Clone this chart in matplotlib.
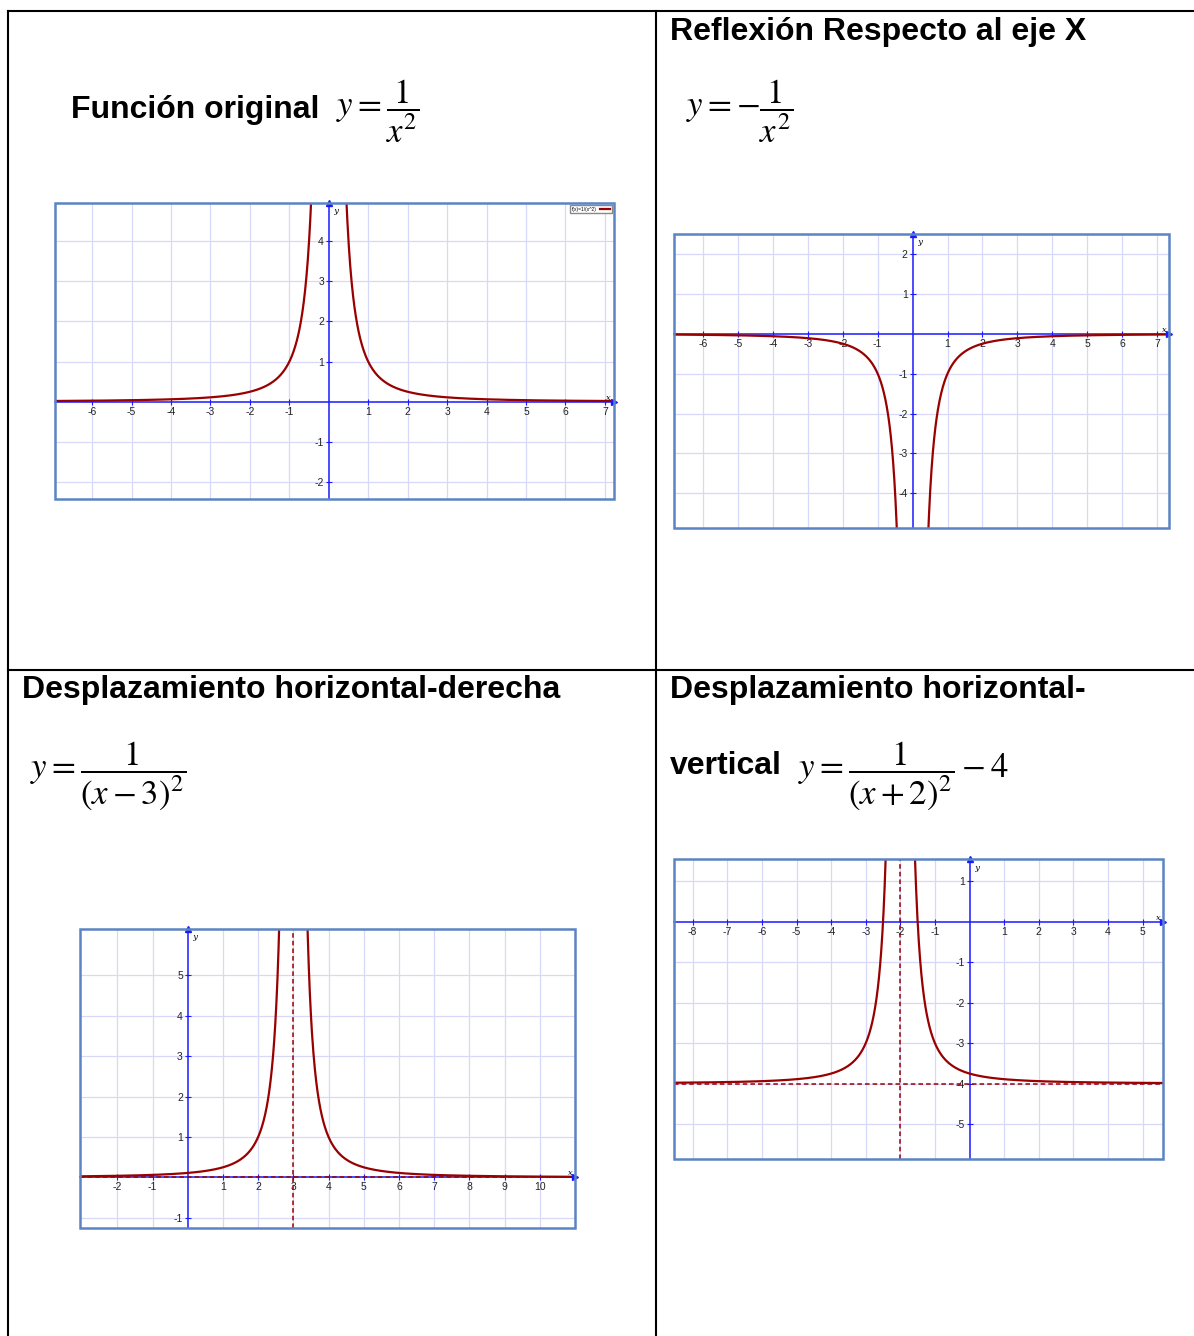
import numpy as np
import matplotlib
matplotlib.use("Agg")
import matplotlib.pyplot as plt
from matplotlib.lines import Line2D
from matplotlib.patches import Rectangle
from matplotlib.ticker import FixedLocator

# --- chart content ---
headings = ["Función original", "Reflexión Respecto al eje X",
            "Desplazamiento horizontal-derecha", "Desplazamiento horizontal-"]
equations = [r"$y=\dfrac{1}{x^2}$", r"$y=-\dfrac{1}{x^2}$",
             r"$y=\dfrac{1}{\left(x-3\right)^2}$", r"$y=\dfrac{1}{\left(x+2\right)^2}-4$"]
extra_word = "vertical"
legend_label = "f(x)=1/(x^2)"

# y = sign / (x - h)^2 + k
signs = [1, -1, 1, 1]
shift_h = [0, 0, 3, -2]
shift_k = [0, 0, 0, -4]
show_asymptotes = [False, False, True, True]

x_ticks = [[-6, -5, -4, -3, -2, -1, 1, 2, 3, 4, 5, 6, 7],
           [-6, -5, -4, -3, -2, -1, 1, 2, 3, 4, 5, 6, 7],
           [-2, -1, 1, 2, 3, 4, 5, 6, 7, 8, 9, 10],
           [-8, -7, -6, -5, -4, -3, -2, -1, 1, 2, 3, 4, 5]]
y_ticks = [[-2, -1, 1, 2, 3, 4],
           [-4, -3, -2, -1, 1, 2],
           [-1, 1, 2, 3, 4, 5],
           [-5, -4, -3, -2, -1, 1]]

# --- layout (pixels) ---
W, H = 1194, 1336
x_lims = [(-6.94, 7.23), (-6.83, 7.34), (-3.06, 11.0), (-8.54, 5.59)]
y_lims = [(-2.42, 4.95), (-4.87, 2.50), (-1.25, 6.14), (-5.86, 1.55)]
boxes = [(55, 203, 614, 499), (674, 234, 1169, 528),
         (80, 929, 575, 1228), (674, 859, 1163, 1159)]

AXIS_BLUE = "#1a1aff"
FRAME_BLUE = "#5b84c4"
GRID = "#d8d8f8"
CURVE = "#990000"


def fx(px):
    return px / W


def fy(py):
    return 1 - py / H


plt.rcParams["mathtext.fontset"] = "stix"
plt.rcParams["axes.unicode_minus"] = False
plt.rcParams["font.family"] = ["Liberation Sans", "DejaVu Sans"]

fig = plt.figure(figsize=(W / 100, H / 100), dpi=100, facecolor="white")

# table lines
lw_table = 1.5
for (x0, y0, x1, y1) in [(8, 11, 1194, 11), (8, 670, 1194, 670),
                         (8, 11, 8, 1336), (656, 11, 656, 1336)]:
    fig.add_artist(Line2D([fx(x0), fx(x1)], [fy(y0), fy(y1)],
                          color="black", lw=lw_table))

# headings
head_pos = [(71, 110), (670, 32), (22, 690), (670, 690)]
for txt, (px, py) in zip(headings, head_pos):
    fig.text(fx(px), fy(py), txt, fontsize=23, fontweight="bold",
             ha="left", va="center")
fig.text(fx(670), fy(766), extra_word, fontsize=23, fontweight="bold",
         ha="left", va="center")

# equations
eq_pos = [(336, 111), (686, 111), (30, 776), (798, 776)]
for txt, (px, py) in zip(equations, eq_pos):
    fig.text(fx(px), fy(py), txt, fontsize=25, ha="left", va="center")

# graphs
for i in range(4):
    x0, y0, x1, y1 = boxes[i]
    ax = fig.add_axes([fx(x0), fy(y1), (x1 - x0) / W, (y1 - y0) / H])
    ax.set_xlim(*x_lims[i])
    ax.set_ylim(*y_lims[i])

    for side in ["top", "right"]:
        ax.spines[side].set_visible(False)
    for side in ["left", "bottom"]:
        ax.spines[side].set_position(("data", 0))
        ax.spines[side].set_color(AXIS_BLUE)
        ax.spines[side].set_linewidth(1.1)

    ax.xaxis.set_major_locator(FixedLocator(x_ticks[i]))
    ax.yaxis.set_major_locator(FixedLocator(y_ticks[i]))
    ax.tick_params(direction="inout", length=5, width=0.8, color=AXIS_BLUE,
                   labelsize=7.5, pad=1, labelcolor="#222222")
    ax.grid(True, color=GRID, lw=0.9)
    ax.set_axisbelow(True)

    # arrow heads and axis names
    ax.plot(1, 0, ">", color=AXIS_BLUE, ms=4, transform=ax.get_yaxis_transform(),
            clip_on=False, zorder=5)
    ax.plot(0, 1, "^", color=AXIS_BLUE, ms=4, transform=ax.get_xaxis_transform(),
            clip_on=False, zorder=5)
    ax.text(0.995, 0, "x", transform=ax.get_yaxis_transform(), fontsize=6,
            family="DejaVu Serif", style="italic", ha="right", va="bottom")
    ax.text(0, 0.985, "  y", transform=ax.get_xaxis_transform(), fontsize=6,
            family="DejaVu Serif", style="italic", ha="left", va="top")

    # curve branches
    h, k, s = shift_h[i], shift_k[i], signs[i]
    xa, xb = x_lims[i]
    left = np.linspace(xa, h - 0.03, 800)
    right = np.linspace(h + 0.03, xb, 800)
    for xs in (left, right):
        line, = ax.plot(xs, s / (xs - h) ** 2 + k, color=CURVE, lw=1.6, zorder=4)
    if i == 0:
        line.set_label(legend_label)
        ax.legend(loc="upper right", fontsize=3.5, handlelength=2,
                  borderpad=0.3, fancybox=False, framealpha=1,
                  edgecolor="#888888", markerfirst=False)

    if show_asymptotes[i]:
        ax.axvline(h, color=CURVE, lw=1.1, ls=(0, (3, 2)), zorder=4)
        ax.axhline(k, color=CURVE, lw=1.1, ls=(0, (3, 2)), zorder=4)

    ax.add_patch(Rectangle((0, 0), 1, 1, transform=ax.transAxes, fill=False,
                           edgecolor=FRAME_BLUE, lw=1.8, clip_on=False, zorder=6))

fig.savefig("out.png", dpi=100, facecolor="white")
